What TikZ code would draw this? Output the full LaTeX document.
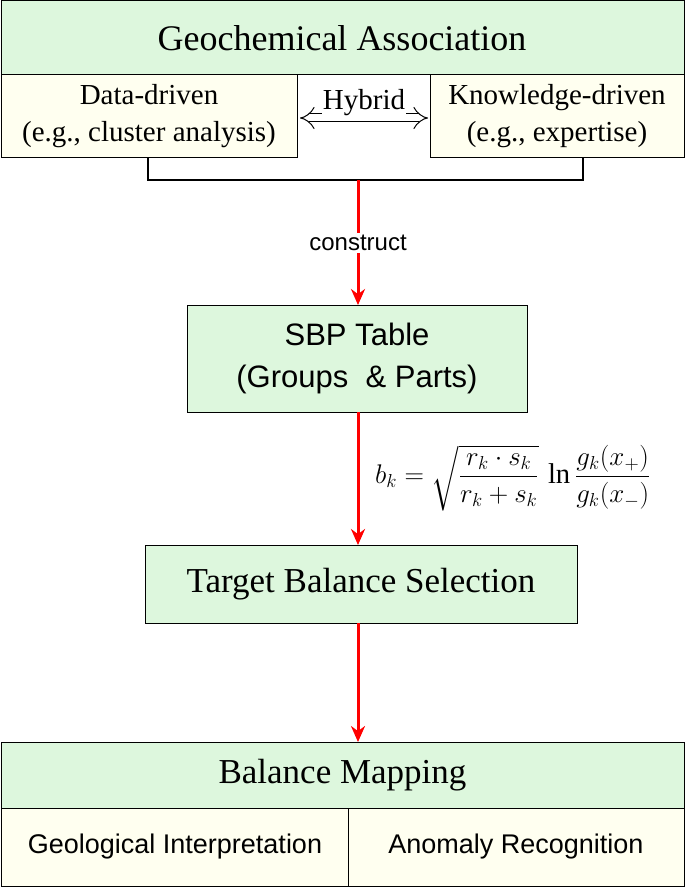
\documentclass[tikz,border=0pt]{standalone}
\usepackage{amsmath}
\usepackage{fontspec}
\setmainfont{Liberation Serif}
\newfontfamily\arialf{Liberation Sans}
\usetikzlibrary{arrows.meta}
\definecolor{gfill}{HTML}{DDF7DD}
\definecolor{yfill}{HTML}{FFFFF0}
\begin{document}
\begin{tikzpicture}[x=1pt,y=-1pt,
  gbox/.style={draw=black,line width=1pt,fill=gfill,inner sep=0pt},
  ybox/.style={draw=black,line width=1pt,fill=yfill,inner sep=0pt},
  redarr/.style={draw=red,line width=3pt,-{Stealth[length=16pt,width=14pt]}},
  txt/.style={align=center,font=\fontsize{29}{37}\selectfont}]
\useasboundingbox (0,0) rectangle (685,888);
\fill[white] (0,0) rectangle (685,888);
% top
\draw[gbox] (1,1) rectangle (684,75);
\node[txt,font=\fontsize{36}{40}\selectfont] (ga) at (342,38) {Geochemical Association};
\draw[ybox] (1,75) rectangle (297,157);
\draw[ybox] (430,75) rectangle (684,157);
\node[txt] (dd) at (149,116) {Data-driven\\(e.g., cluster analysis)};
\node[txt] (kd) at (557,116) {Knowledge-driven\\(e.g., expertise)};
\coordinate (hl) at (300,118);
\coordinate (hr) at (428,118);
\draw[line width=1pt,{Implies[length=10pt]}-{Implies[length=10pt]},double,double distance=7pt] (hl) -- (hr);
\node[txt,fill=white,inner sep=1pt] (hy) at (364,103) {Hybrid};
% bracket
\coordinate (b1) at (148,157); \coordinate (b2) at (148,180);
\coordinate (b3) at (583,180); \coordinate (b4) at (583,157);
\draw[line width=2pt] (b1) -- (b2) -- (b3) -- (b4);
\coordinate (a1) at (358,180);
\coordinate (a2) at (358,305);
\coordinate (a3) at (358,412);
\coordinate (a4) at (358,545);
\coordinate (a5) at (358,623);
\coordinate (a6) at (358,742);
% SBP
\node[gbox,minimum width=340pt,minimum height=107pt,align=center,font=\arialf\fontsize{31}{42}\selectfont] (sbp) at (357,358.5) {SBP Table\\(Groups\ \ \& Parts)};
\draw[redarr] (a1) -- (a2);
\node[fill=white,font=\arialf\fontsize{24}{28}\selectfont,inner sep=2pt] (con) at (358,243) {construct};
% target
\node[gbox,minimum width=432pt,minimum height=78pt,font=\fontsize{35}{40}\selectfont] (tb) at (361,584) {Target Balance Selection};
\draw[redarr] (a3) -- (a4);
\node[anchor=west,inner sep=0pt] (fm) at (375,478) {\scalebox{1.3}{\fontsize{22}{26}\selectfont$b_k=\sqrt{\dfrac{r_k\cdot s_k}{r_k+s_k}}\,\ln\dfrac{g_k(x_+)}{g_k(x_-)}$}};
% bottom
\node[gbox,minimum width=683pt,minimum height=66pt,font=\fontsize{35}{40}\selectfont] (bm) at (342.5,775) {Balance Mapping};
\draw[redarr] (a5) -- (a6);
\draw[ybox] (1,808) rectangle (348,886);
\draw[ybox] (348,808) rectangle (684,886);
\node[font=\arialf\fontsize{27}{30}\selectfont] (gi) at (175,847) {Geological Interpretation};
\node[font=\arialf\fontsize{27}{30}\selectfont] (ar) at (516,847) {Anomaly Recognition};
\end{tikzpicture}
\end{document}
